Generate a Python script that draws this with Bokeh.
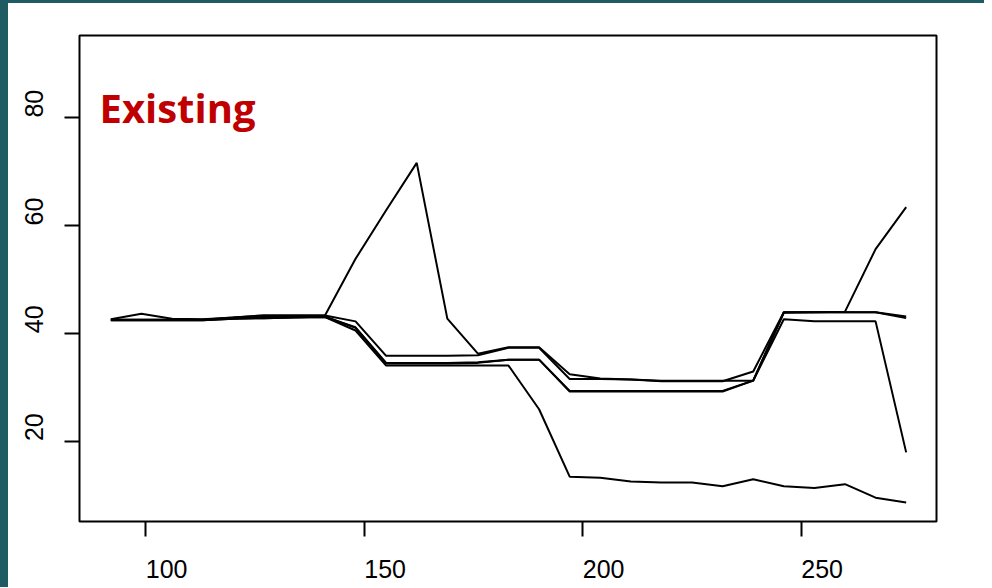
import math
from bokeh.plotting import figure
from bokeh.models import FixedTicker, Range1d, LinearAxis, Label
from bokeh.embed import file_html
from bokeh.resources import INLINE

# ---- data ----
days = [92, 99, 106, 113, 120, 127, 134, 141, 148, 155, 162, 169, 176, 183,
        190, 197, 204, 211, 218, 225, 232, 239, 246, 253, 260, 267, 274]

series_a = [42.6, 43.6, 42.7, 42.6, 42.9, 43.3, 43.3, 43.3, 53.8, 62.8, 71.6, 42.7, 36.2, 37.4,
            37.4, 32.4, 31.6, 31.4, 31.2, 31.2, 31.2, 31.2, 43.9, 43.9, 43.9, 43.9, 43.1]
series_b = [42.5, 42.5, 42.5, 42.5, 42.9, 43.3, 43.3, 43.3, 42.2, 35.8, 35.8, 35.8, 35.9, 37.3,
            37.3, 31.5, 31.5, 31.4, 31.1, 31.1, 31.1, 32.9, 43.9, 43.9, 44.0, 55.6, 63.4]
series_c = [42.4, 42.4, 42.4, 42.4, 42.7, 42.8, 42.9, 43.0, 41.1, 34.5, 34.5, 34.5, 34.6, 35.1,
            35.1, 29.2, 29.2, 29.2, 29.2, 29.2, 29.2, 31.2, 42.6, 42.2, 42.2, 42.2, 17.9]
series_d = [42.4, 42.4, 42.4, 42.4, 42.7, 42.8, 42.9, 43.0, 40.5, 34.0, 34.0, 34.0, 34.0, 34.0,
            25.9, 13.4, 13.2, 12.5, 12.3, 12.3, 11.6, 12.9, 11.6, 11.3, 12.0, 9.5, 8.6]
series_e = [42.5, 42.5, 42.5, 42.5, 42.8, 43.0, 43.0, 43.1, 41.0, 34.4, 34.4, 34.4, 34.5, 35.1,
            35.1, 29.3, 29.3, 29.3, 29.3, 29.3, 29.3, 31.2, 43.8, 43.9, 43.9, 43.9, 42.8]

x_ticks = [100, 150, 200, 250]
y_ticks = [20, 40, 60, 80]
title_text = "Existing"

# ---- layout ----
X0, X1 = 84.83, 280.94
Y0, Y1 = 5.08, 95.22
FW, FH = 857, 486
TEAL = "#1f5b63"
LABEL_PX = 25  # tick label font size

xpu = FW / (X1 - X0)
ypu = FH / (Y1 - Y0)
# tick labels start at their tick (left/bottom aligned), i.e. shifted by half their length
dx = (3 * 0.556 * LABEL_PX / 2) / xpu
dy = (2 * 0.556 * LABEL_PX / 2) / ypu

p = figure(frame_width=FW, frame_height=FH,
           x_range=Range1d(X0, X1), y_range=Range1d(Y0, Y1),
           min_border_left=71, min_border_right=48, min_border_top=32, min_border_bottom=66,
           output_backend="svg", toolbar_location=None)
p.styles = {"border-left": f"8px solid {TEAL}", "border-top": f"3px solid {TEAL}"}
p.background_fill_color = "white"
p.border_fill_color = "white"
p.outline_line_color = "black"
p.outline_line_width = 2
p.xgrid.visible = False
p.ygrid.visible = False

# tick-mark axes (no labels)
for ax, ticks in ((p.xaxis[0], x_ticks), (p.yaxis[0], y_ticks)):
    ax.ticker = FixedTicker(ticks=ticks)
    ax.major_label_overrides = {t: "" for t in ticks}
    ax.major_label_standoff = 0
    ax.axis_line_color = None
    ax.major_tick_out = 15
    ax.major_tick_in = 0
    ax.major_tick_line_width = 2
    ax.major_tick_line_color = "black"
    ax.minor_tick_line_color = None

# label axes on shifted ranges
p.extra_x_ranges = {"xlab": Range1d(X0 - dx, X1 - dx)}
p.extra_y_ranges = {"ylab": Range1d(Y0 - dy, Y1 - dy)}
xlab = LinearAxis(x_range_name="xlab", ticker=FixedTicker(ticks=x_ticks))
ylab = LinearAxis(y_range_name="ylab", ticker=FixedTicker(ticks=y_ticks))
ylab.major_label_orientation = "vertical"
for ax, sd in ((xlab, 23), (ylab, 21)):
    ax.axis_line_color = None
    ax.major_tick_line_color = None
    ax.minor_tick_line_color = None
    ax.major_tick_out = 0
    ax.major_tick_in = 0
    ax.major_label_standoff = sd
    ax.major_label_text_font = "Liberation Sans"
    ax.major_label_text_font_size = f"{LABEL_PX}px"
    ax.major_label_text_color = "black"
p.add_layout(xlab, "below")
p.add_layout(ylab, "left")

for s in (series_a, series_b, series_c, series_d, series_e):
    p.line(days, s, line_color="black", line_width=2)

p.add_layout(Label(x=X0 + 20 / xpu, y=Y1 - 72 / ypu, text=title_text,
                   text_align="left", text_baseline="alphabetic",
                   text_font="Open Sans", text_font_style="bold",
                   text_font_size="40px", text_color="#c00000"))

open("out.html", "w").write(file_html(p, INLINE))
